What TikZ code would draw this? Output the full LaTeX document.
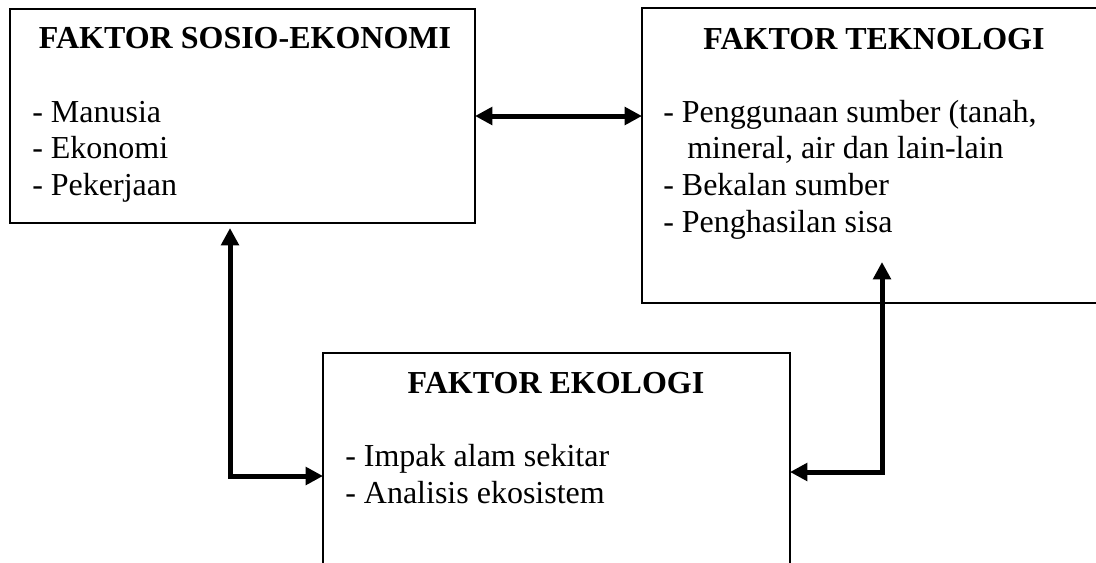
\documentclass[tikz,border=0pt]{standalone}
\usepackage{fontspec}
\setmainfont{Liberation Serif}
\usetikzlibrary{arrows.meta,calc}
\begin{document}
\begin{tikzpicture}[x=0.75pt,y=-0.75pt,
  box/.style={draw,line width=1.1pt,inner sep=0pt,outer sep=0pt,anchor=north west},
  ttl/.style={inner sep=0pt,anchor=base,font=\fontsize{24}{27.5}\selectfont\bfseries},
  itm/.style={inner sep=0pt,anchor=base west,font=\fontsize{24}{27.5}\selectfont},
  dbl/.style={line width=3.75pt,line join=miter,{Triangle[length=13pt,width=13pt]}-{Triangle[length=13pt,width=13pt]}}]
\useasboundingbox (0,0) rectangle (1096,562);
% boxes
\node[box,minimum width=348.75pt,minimum height=160.5pt] (b1) at (10,9) {};
\node[box,minimum width=343.5pt,minimum height=221.25pt] (b2) at (642,8) {};
\node[box,minimum width=350.25pt,minimum height=166.5pt] (b3) at (323,353) {};
% box 1 text
\node[ttl] (t1) at (245,48) {FAKTOR SOSIO-EKONOMI};
\node[itm] (s1) at (32,122) {- Manusia};
\node[itm] (s2) at (32,158) {- Ekonomi};
\node[itm] (s3) at (32,195) {- Pekerjaan};
% box 2 text
\node[ttl] (t2) at (874,49) {FAKTOR TEKNOLOGI};
\node[itm] (k1) at (663,122) {- Penggunaan sumber (tanah,};
\node[itm] (k2) at (687,158) {mineral, air dan lain-lain};
\node[itm] (k3) at (663,195) {- Bekalan sumber};
\node[itm] (k4) at (663,232) {- Penghasilan sisa};
% box 3 text
\node[ttl] (t3) at (556,393) {FAKTOR EKOLOGI};
\node[itm] (e1) at (345,466) {- Impak alam sekitar};
\node[itm] (e2) at (345,503) {- Analisis ekosistem};
% connectors
\coordinate (c1) at (230,476);
\coordinate (c2) at (882,472);
\draw[dbl] (b1.east) -- (b1.east -| b2.west);
\draw[dbl] ($(c1 |- b1.south)+(0,5)$) -- (c1) -- (c1 -| b3.west);
\draw[dbl] ($(c2 |- b2.south)+(0,-41)$) -- (c2) -- (c2 -| b3.east);
\end{tikzpicture}
\end{document}
